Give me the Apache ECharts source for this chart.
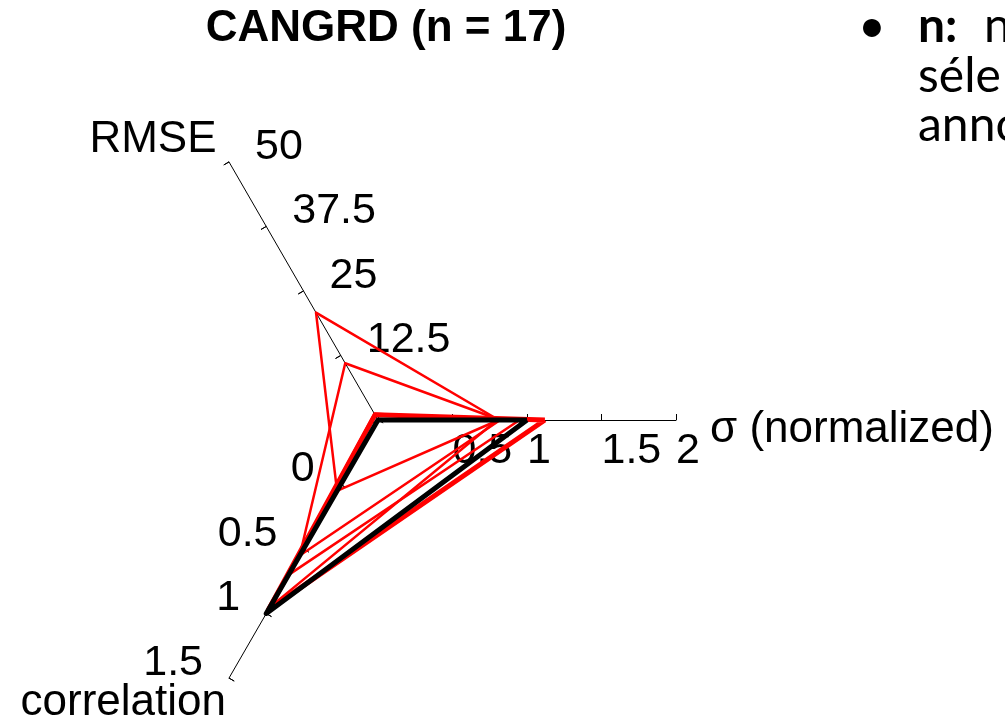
<!DOCTYPE html>
<html>
<head>
<meta charset="utf-8">
<script src="https://cdn.jsdelivr.net/npm/echarts@6/dist/echarts.min.js"></script>
<style>
  html, body { margin: 0; padding: 0; background: #fff; }
  #chart { width: 1005px; height: 724px; }
</style>
</head>
<body>
<div id="chart"></div>
<script>
// Three performance axes, in radar order (counter-clockwise from the right)
const axisNames = ['σ (normalized)', 'RMSE', 'correlation'];
const axisMin = [0, 0, -0.5];
const axisMax = [2, 50, 1.5];

// One triangle per dataset; the last one is the reference
const datasetIds = ['d1', 'd2', 'd3', 'd4', 'd5', 'ref'];
const sigmaNorm   = [0.81, 0.82, 0.80, 0.95, 1.12, 1.00];
const rmse        = [20.8, 11.0, 1.2, 1.0, 1.0, 0.0];
const correlation = [0.05, 0.55, 0.95, 0.70, 0.97, 1.00];

// Line style per dataset
const styleOf = {
  d1: { color: '#ff0000', width: 2.5 },
  d2: { color: '#ff0000', width: 2.5 },
  d3: { color: '#ff0000', width: 2.5 },
  d4: { color: '#ff0000', width: 2.5 },
  d5: { color: '#ff0000', width: 5 },
  ref: { color: '#000000', width: 5 }
};

const FONT = '"Liberation Sans", Arial, sans-serif';
const NOTE_FONT = 'Lato, "Open Sans", sans-serif';

// Per-axis placement of tick labels and axis titles
const axisExtras = [
  { nameGap: 34, nameMoveOverlap: false,
    axisLabel: { margin: -10, align: 'left', verticalAlign: 'top' } },
  { nameGap: 25, nameMoveOverlap: false,
    axisLabel: { margin: -30, align: 'left', verticalAlign: 'middle' } },
  { nameGap: 6, nameMoveOverlap: false,
    axisLabel: { margin: -30, align: 'right', verticalAlign: 'middle' } }
];
// Empty spacer line placed above an axis title to push it downward
const nameSpacer = { 'σ (normalized)': 'sp20', 'correlation': 'sp40' };

const radarBase = {
  center: [378, 420],
  radius: 298,
  startAngle: 0,
  splitNumber: 4,
  shape: 'polygon',
  splitLine: { show: false },
  splitArea: { show: false }
};

const chart = echarts.init(document.getElementById('chart'), null, { renderer: 'canvas' });

chart.setOption({
  animation: false,
  backgroundColor: '#ffffff',
  graphic: [
    { type: 'text', x: 386, y: 29,
      style: { text: 'CANGRD (n = 17)', align: 'center', verticalAlign: 'middle',
               font: 'bold 44px ' + FONT, fill: '#000' } },
    { type: 'text', x: 858, y: 51,
      style: { text: '•', align: 'left', verticalAlign: 'bottom',
               font: '48px ' + NOTE_FONT, fill: '#000' } },
    { type: 'text', x: 918, y: 51,
      style: { text: 'n:', align: 'left', verticalAlign: 'bottom',
               font: 'bold 48px ' + NOTE_FONT, fill: '#000' } },
    { type: 'text', x: 984, y: 51,
      style: { text: 'n', align: 'left', verticalAlign: 'bottom',
               font: '48px ' + NOTE_FONT, fill: '#000' } },
    { type: 'text', x: 918, y: 101,
      style: { text: 'séle', align: 'left', verticalAlign: 'bottom',
               font: '48px ' + NOTE_FONT, fill: '#000' } },
    { type: 'text', x: 918, y: 150,
      style: { text: 'anno', align: 'left', verticalAlign: 'bottom',
               font: '48px ' + NOTE_FONT, fill: '#000' } }
  ],
  radar: [
    Object.assign({}, radarBase, {
      axisLine: { show: true, lineStyle: { color: '#000', width: 1 } },
      axisTick: { show: true, length: 6, lineStyle: { color: '#000', width: 1 } },
      axisLabel: { show: true, showMinLabel: false, color: '#000', fontSize: 43, fontFamily: FONT },
      axisName: {
        color: '#000', fontSize: 44, fontFamily: FONT,
        formatter: (name) => nameSpacer[name] ? '{' + nameSpacer[name] + '| }\n' + name : name,
        rich: {
          sp20: { fontSize: 2, lineHeight: 20 },
          sp40: { fontSize: 2, lineHeight: 40 }
        }
      },
      indicator: axisNames.map((name, i) => Object.assign(
        { name: name, min: axisMin[i], max: axisMax[i] }, axisExtras[i]))
    }),
    Object.assign({}, radarBase, {
      axisLine: { show: false },
      axisTick: { show: true, inside: true, length: 6, lineStyle: { color: '#000', width: 1 } },
      axisLabel: { show: false },
      axisName: { show: false },
      indicator: axisNames.map((name, i) => ({ name: name, min: axisMin[i], max: axisMax[i] }))
    })
  ],
  series: [{
    type: 'radar',
    radarIndex: 0,
    symbol: 'none',
    silent: true,
    data: datasetIds.map((id, i) => ({
      name: id,
      value: [sigmaNorm[i], rmse[i], correlation[i]],
      lineStyle: { color: styleOf[id].color, width: styleOf[id].width },
      areaStyle: null
    }))
  }]
});
</script>
</body>
</html>
